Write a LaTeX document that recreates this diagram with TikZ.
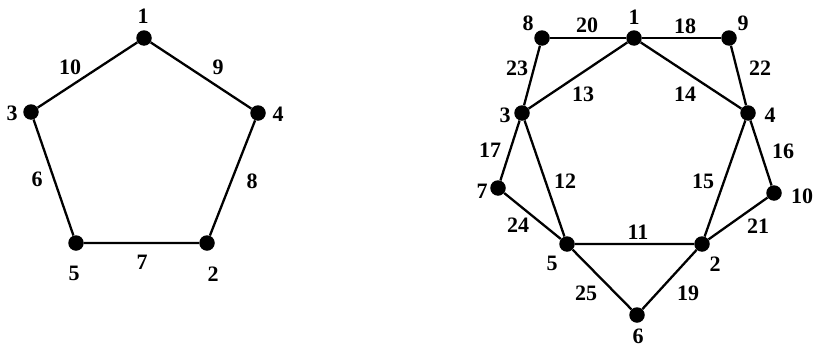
\documentclass[tikz,border=0pt]{standalone}
\usepackage{fontspec}
\setmainfont{Liberation Serif}
\begin{document}
\begin{tikzpicture}[x=1pt,y=-1pt,
  vtx/.style={circle,fill=black,inner sep=0pt,minimum size=15.5pt},
  lbl/.style={inner sep=0pt,font=\fontsize{22}{24}\selectfont\bfseries},
  edge/.style={line width=2.3pt}]
\useasboundingbox (0,0) rectangle (821,348);

% ---- pentagon ----
\node[vtx] (a1) at (144,38) {};
\node[vtx] (a3) at (31,112) {};
\node[vtx] (a4) at (258,113) {};
\node[vtx] (a5) at (76,243) {};
\node[vtx] (a2) at (207,243) {};
\draw[edge] (a1) -- (a3) -- (a5) -- (a2) -- (a4) -- (a1);

\node[lbl] (la1) at (143,16) {1};
\node[lbl] (la3) at (12,113) {3};
\node[lbl] (la4) at (278,114) {4};
\node[lbl] (la5) at (74,273) {5};
\node[lbl] (la2) at (213,274) {2};
\node[lbl] (le10) at (70,67) {10};
\node[lbl] (le9) at (218,67) {9};
\node[lbl] (le6) at (37,179) {6};
\node[lbl] (le8) at (252,181) {8};
\node[lbl] (le7) at (142,262) {7};

% ---- ten-vertex graph ----
\node[vtx] (b8) at (542,38) {};
\node[vtx] (b1) at (634,38) {};
\node[vtx] (b9) at (729,38) {};
\node[vtx] (b3) at (522,113) {};
\node[vtx] (b4) at (748,113) {};
\node[vtx] (b7) at (498,188) {};
\node[vtx] (b10) at (774,193) {};
\node[vtx] (b5) at (567,244) {};
\node[vtx] (b2) at (702,244) {};
\node[vtx] (b6) at (637,315) {};

\draw[edge] (b8) -- (b1) -- (b9);
\draw[edge] (b8) -- (b3) -- (b7) -- (b5) -- (b6) -- (b2) -- (b10) -- (b4) -- (b9);
\draw[edge] (b1) -- (b3) -- (b5) -- (b2) -- (b4) -- (b1);

\node[lbl] (lb8) at (528,23) {8};
\node[lbl] (lb1) at (634,17) {1};
\node[lbl] (lb9) at (743,23) {9};
\node[lbl] (lb3) at (505,115) {3};
\node[lbl] (lb4) at (770,115) {4};
\node[lbl] (lb7) at (482,191) {7};
\node[lbl] (lb10) at (802,196) {10};
\node[lbl] (lb5) at (552,263) {5};
\node[lbl] (lb2) at (715,264) {2};
\node[lbl] (lb6) at (638,336) {6};

\node[lbl] (lf20) at (587,25) {20};
\node[lbl] (lf18) at (685,26) {18};
\node[lbl] (lf23) at (517,68) {23};
\node[lbl] (lf22) at (760,68) {22};
\node[lbl] (lf13) at (583,94) {13};
\node[lbl] (lf14) at (685,94) {14};
\node[lbl] (lf17) at (490,150) {17};
\node[lbl] (lf16) at (783,151) {16};
\node[lbl] (lf12) at (565,181) {12};
\node[lbl] (lf15) at (703,181) {15};
\node[lbl] (lf24) at (518,225) {24};
\node[lbl] (lf11) at (638,232) {11};
\node[lbl] (lf21) at (758,226) {21};
\node[lbl] (lf25) at (586,293) {25};
\node[lbl] (lf19) at (688,293) {19};
\end{tikzpicture}
\end{document}
